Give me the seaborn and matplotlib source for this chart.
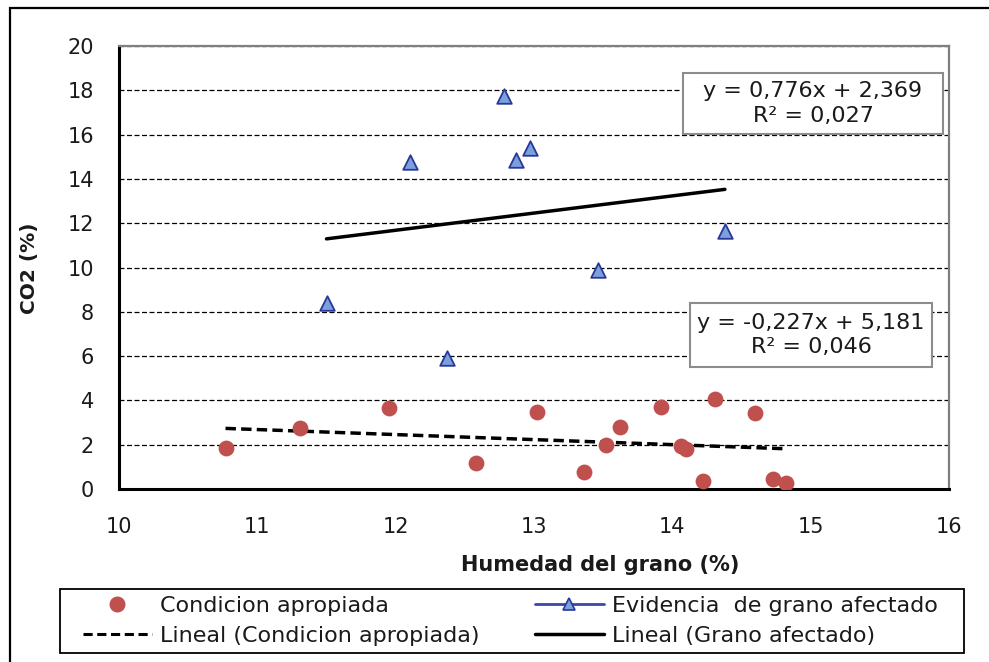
import numpy as np
import pandas as pd
import matplotlib
matplotlib.use("Agg")
import matplotlib.pyplot as plt
from matplotlib.lines import Line2D
from matplotlib.patches import Rectangle
import seaborn as sns

# ---------------- data ----------------
apropiada_x = [10.77, 11.31, 11.95, 12.58, 13.02, 13.36, 13.52, 13.62, 13.92,
               14.06, 14.10, 14.22, 14.31, 14.60, 14.73, 14.82]
apropiada_y = [1.85, 2.75, 3.66, 1.17, 3.48, 0.77, 1.99, 2.80, 3.70,
               1.94, 1.80, 0.36, 4.06, 3.43, 0.45, 0.27]

afectado_x = [11.50, 12.10, 12.37, 12.78, 12.87, 12.97, 13.46, 14.38]
afectado_y = [8.40, 14.76, 5.90, 17.74, 14.85, 15.40, 9.89, 11.65]

fit_apropiada = (-0.227, 5.181)
fit_afectado = (0.776, 2.369)
label_fit_apropiada = "y = -0,227x + 5,181\nR² = 0,046"
label_fit_afectado = "y = 0,776x + 2,369\nR² = 0,027"

x_ticks = [10, 11, 12, 13, 14, 15, 16]
y_ticks = [0, 2, 4, 6, 8, 10, 12, 14, 16, 18, 20]

legend_labels = ["Condicion apropiada", "Lineal (Condicion apropiada)",
                 "Evidencia  de grano afectado", "Lineal (Grano afectado)"]

# ---------------- style ----------------
sns.set_style("white")
plt.rcParams["font.family"] = ["DejaVu Sans"]

W, H = 989, 662
fig = plt.figure(figsize=(W / 100, H / 100), dpi=100)
ax = fig.add_axes([119 / W, 1 - 489 / H, (949 - 119) / W, (489 - 46) / H])

red = "#C0504D"
tri_face = "#7BA0DE"
tri_edge = "#2A3796"
txt = "#1a1a1a"

df_a = pd.DataFrame({"x": apropiada_x, "y": apropiada_y})
df_b = pd.DataFrame({"x": afectado_x, "y": afectado_y})

sns.scatterplot(data=df_a, x="x", y="y", ax=ax, color=red, s=130,
                edgecolor=red, linewidth=0, zorder=4, legend=False)
sns.scatterplot(data=df_b, x="x", y="y", ax=ax, marker="^", s=110,
                color=tri_face, edgecolor=tri_edge, linewidth=1.3, zorder=4,
                legend=False)

# trend lines (from the published equations, across each series' x range)
xa = np.array([min(apropiada_x), max(apropiada_x)])
xb = np.array([min(afectado_x), max(afectado_x)])
sns.lineplot(x=xa, y=fit_apropiada[0] * xa + fit_apropiada[1], ax=ax,
             color="black", lw=2.5, linestyle=(0, (3, 1.5)), zorder=3)
sns.lineplot(x=xb, y=fit_afectado[0] * xb + fit_afectado[1], ax=ax,
             color="black", lw=2.5, zorder=3)

ax.set_xlim(10, 16)
ax.set_ylim(0, 20)
ax.set_xticks(x_ticks)
ax.set_yticks(y_ticks)
ax.set_xlabel("")
ax.set_ylabel("")

ax.yaxis.grid(True, linestyle=(0, (4, 2)), color="black", lw=0.9)
ax.xaxis.grid(False)
ax.set_axisbelow(True)

for s in ["left", "bottom"]:
    ax.spines[s].set_color("black")
    ax.spines[s].set_linewidth(2.2)
for s in ["top", "right"]:
    ax.spines[s].set_color("#7f7f7f")
    ax.spines[s].set_linewidth(1.6)

ax.tick_params(axis="both", direction="out", length=8, width=1.5,
               color="black", labelsize=15, labelcolor=txt)
ax.tick_params(axis="y", pad=10)
ax.tick_params(axis="x", pad=12)

# axis titles
fig.text(30 / W, 1 - 268 / H, "CO2 (%)", rotation=90, ha="center",
         va="center", fontsize=14.5, fontweight="bold", color=txt)
fig.text(600 / W, 1 - 565 / H, "Humedad del grano (%)", ha="center",
         va="center", fontsize=15, fontweight="bold", color=txt)

# equation boxes (frames drawn in figure pixels, text centred in them)
def eq_box(x0, y0, x1, y1, text):
    fig.patches.append(Rectangle((x0 / W, 1 - y1 / H), (x1 - x0) / W,
                                 (y1 - y0) / H, transform=fig.transFigure,
                                 fc="white", ec="#8c8c8c", lw=1.5, zorder=5))
    fig.text((x0 + x1) / 2 / W, 1 - (y0 + y1) / 2 / H, text, ha="center",
             va="center", multialignment="center", fontsize=16, color=txt,
             linespacing=1.3, zorder=6)

eq_box(683, 73, 943, 134, label_fit_afectado)
eq_box(690, 303, 932, 367, label_fit_apropiada)

# legend
handles = [
    Line2D([], [], marker="o", ls="none", color=red, markersize=10.5),
    Line2D([], [], color="black", lw=2.2, linestyle=(0, (3, 1.5))),
    Line2D([], [], color="#3A48A8", lw=2, marker="^", markersize=8,
           mfc=tri_face, mec=tri_edge, mew=1.2),
    Line2D([], [], color="black", lw=2.5),
]
fig.patches.append(Rectangle((60 / W, 1 - 653 / H), (964 - 60) / W,
                             (653 - 589) / H, transform=fig.transFigure,
                             fill=False, ec="black", lw=1.3))
leg = fig.legend(handles, legend_labels, loc="upper left", ncol=2,
                 bbox_to_anchor=(83 / W, 1 - 596 / H), fontsize=16,
                 frameon=False, handlelength=3.1, handletextpad=0.36,
                 borderpad=0, labelspacing=0.45, borderaxespad=0,
                 columnspacing=2.5)
for t in leg.get_texts():
    t.set_color(txt)

# outer chart frame (clipped by the image edges on right/bottom)
fig.patches.append(Rectangle((10 / W, -0.1), 1.2, (1 - 8 / H) + 0.1,
                             transform=fig.transFigure, fill=False,
                             ec="black", lw=1.6))

fig.savefig("out.png", dpi=100)
